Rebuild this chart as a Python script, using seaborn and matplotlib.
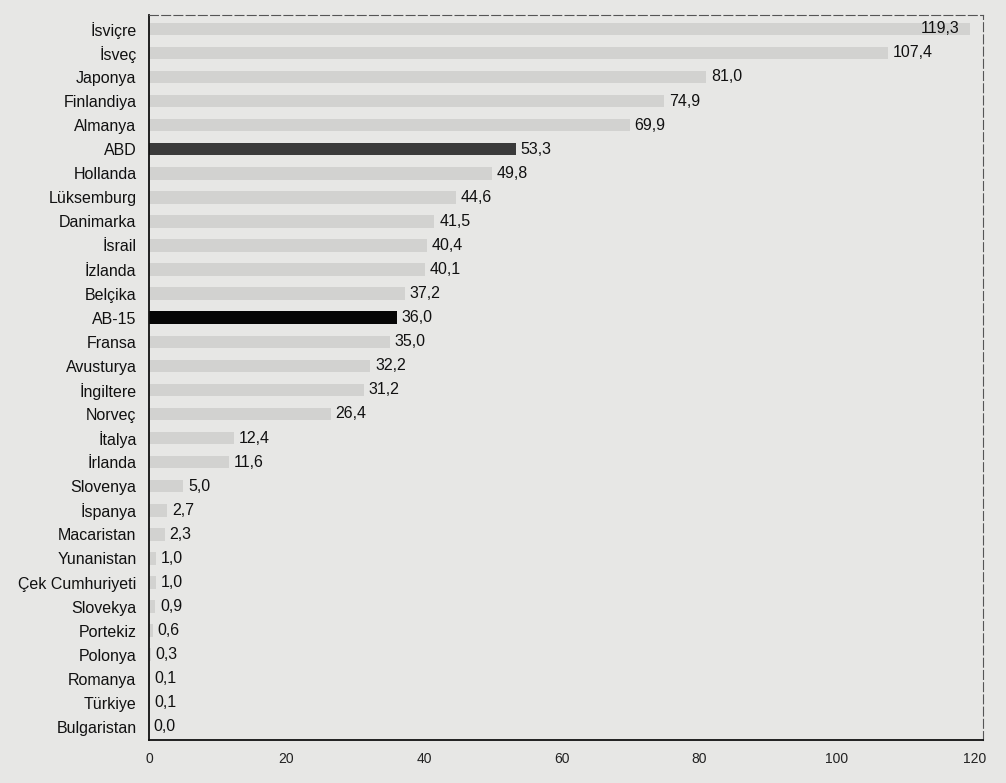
import pandas as pd
import seaborn as sns
import matplotlib.pyplot as plt

# values
countries = ['İsviçre', 'İsveç', 'Japonya', 'Finlandiya', 'Almanya', 'ABD', 'Hollanda',
             'Lüksemburg', 'Danimarka', 'İsrail', 'İzlanda', 'Belçika', 'AB-15', 'Fransa',
             'Avusturya', 'İngiltere', 'Norveç', 'İtalya', 'İrlanda', 'Slovenya', 'İspanya',
             'Macaristan', 'Yunanistan', 'Çek Cumhuriyeti', 'Slovekya', 'Portekiz',
             'Polonya', 'Romanya', 'Türkiye', 'Bulgaristan']
values = [119.3, 107.4, 81.0, 74.9, 69.9, 53.3, 49.8, 44.6, 41.5, 40.4, 40.1, 37.2, 36.0,
          35.0, 32.2, 31.2, 26.4, 12.4, 11.6, 5.0, 2.7, 2.3, 1.0, 1.0, 0.9, 0.6, 0.3,
          0.1, 0.1, 0.0]
x_ticks = [0, 20, 40, 60, 80, 100, 120]

data = pd.DataFrame({'country': countries, 'value': values})

# highlighted bars
bar_colors = {c: '#d2d2d0' for c in countries}
bar_colors['ABD'] = '#3a3a3a'
bar_colors['AB-15'] = '#050505'

sns.set_style('white')
plt.rcParams['font.family'] = ['Liberation Sans', 'DejaVu Sans']

bg = '#e7e7e5'
fig = plt.figure(figsize=(10.06, 7.83), dpi=100, facecolor=bg)
ax = fig.add_axes([0.148, 0.055, 0.829, 0.926])
ax.set_facecolor(bg)

sns.barplot(data=data, x='value', y='country', hue='country', palette=bar_colors,
            orient='h', width=0.52, legend=False, linewidth=0, ax=ax)

# value labels with comma decimals
for i, v in enumerate(values):
    txt = f'{v:.1f}'.replace('.', ',')
    if v > 115:
        # the top label sits back inside the frame in the original
        ax.text(v - 1.5, i, txt, va='center', ha='right', fontsize=11.5, color='#111111')
    else:
        ax.text(v + 0.7, i, txt, va='center', ha='left', fontsize=11.5, color='#111111')

ax.set_xlim(0, 121.2)
ax.set_ylim(len(countries) - 0.46, -0.58)
ax.set_xticks(x_ticks)
ax.set_xticklabels([str(t) for t in x_ticks], fontsize=10, color='#222222')
ax.tick_params(axis='y', labelsize=11.5, labelcolor='#111111', length=0, pad=9)
ax.tick_params(axis='x', length=0, pad=9)
ax.set_xlabel('')
ax.set_ylabel('')

for side in ['left', 'bottom']:
    ax.spines[side].set_color('#111111')
    ax.spines[side].set_linewidth(1.3)
for side in ['top', 'right']:
    ax.spines[side].set_color('#555555')
    ax.spines[side].set_linewidth(0.8)
    ax.spines[side].set_linestyle((0, (8, 3)))

plt.savefig('out.png', dpi=100, facecolor=bg)
